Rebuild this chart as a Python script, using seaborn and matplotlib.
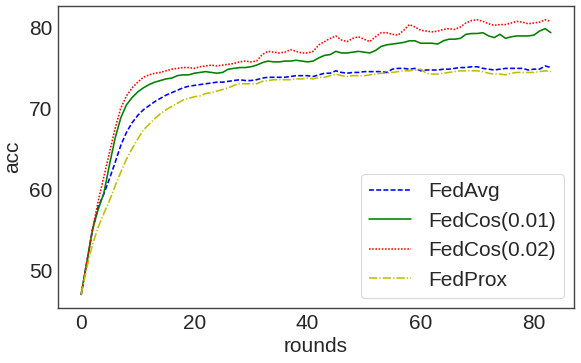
import numpy as np
import pandas as pd
import matplotlib
matplotlib.use("Agg")
import matplotlib.pyplot as plt
import seaborn as sns

rounds = list(range(84))

fedavg = [47.0, 51.0, 55.0, 57.8, 59.4, 61.3, 63.3, 65.4, 67.0, 68.2,
          69.1, 69.8, 70.3, 70.8, 71.2, 71.6, 71.9, 72.2, 72.5, 72.7,
          72.8, 72.9, 73.0, 73.1, 73.2, 73.2, 73.3, 73.4, 73.5, 73.4,
          73.4, 73.5, 73.7, 73.8, 73.8, 73.8, 73.8, 73.9, 74.0, 74.0,
          74.0, 73.9, 74.1, 74.3, 74.3, 74.6, 74.4, 74.3, 74.4, 74.4,
          74.5, 74.5, 74.5, 74.5, 74.4, 74.8, 74.9, 74.9, 74.8, 74.9,
          74.6, 74.7, 74.7, 74.7, 74.8, 74.8, 74.9, 75.0, 75.0, 75.1,
          75.1, 74.9, 74.8, 74.7, 74.8, 74.9, 74.9, 74.9, 74.9, 74.7,
          74.8, 74.8, 75.2, 75.0]

fedcos_001 = [47.0, 51.0, 55.0, 57.5, 59.5, 63.0, 66.3, 68.8, 70.4, 71.3,
              72.0, 72.5, 72.9, 73.2, 73.4, 73.6, 73.7, 74.0, 74.1, 74.1,
              74.3, 74.4, 74.5, 74.4, 74.3, 74.4, 74.8, 74.9, 75.0, 75.0,
              75.1, 75.3, 75.6, 75.8, 75.7, 75.7, 75.8, 75.8, 75.9, 75.8,
              75.7, 75.8, 76.2, 76.5, 76.6, 77.0, 76.8, 76.8, 76.9, 77.0,
              76.9, 76.8, 77.1, 77.6, 77.8, 77.9, 78.0, 78.1, 78.3, 78.3,
              78.0, 78.0, 78.0, 77.9, 78.3, 78.5, 78.5, 78.6, 79.1, 79.2,
              79.2, 79.3, 78.9, 78.7, 79.1, 78.6, 78.8, 78.9, 78.9, 78.9,
              79.0, 79.5, 79.8, 79.3]

fedcos_002 = [47.0, 51.0, 55.0, 58.5, 61.5, 64.5, 67.5, 70.0, 71.5, 72.5,
              73.2, 73.8, 74.1, 74.3, 74.4, 74.6, 74.8, 74.9, 75.0, 75.0,
              74.9, 75.1, 75.2, 75.3, 75.2, 75.3, 75.4, 75.5, 75.7, 75.8,
              75.7, 75.8, 76.6, 77.0, 76.9, 76.8, 76.9, 77.2, 77.0, 76.8,
              76.8, 77.0, 77.8, 78.2, 78.6, 78.9, 78.4, 78.2, 78.6, 78.8,
              78.5, 78.2, 78.8, 79.3, 79.3, 79.1, 79.0, 79.6, 80.3, 80.0,
              79.6, 79.5, 79.4, 79.5, 79.7, 79.8, 79.7, 80.0, 80.5, 80.8,
              80.9, 80.7, 80.4, 80.2, 80.3, 80.3, 80.5, 80.7, 80.6, 80.4,
              80.5, 80.6, 80.9, 80.7]

fedprox = [47.0, 50.3, 53.2, 55.3, 57.0, 58.6, 60.4, 62.1, 63.7, 65.0,
           66.2, 67.3, 68.0, 68.7, 69.3, 69.8, 70.2, 70.6, 71.0, 71.2,
           71.4, 71.5, 71.8, 71.9, 72.1, 72.3, 72.5, 72.8, 73.0, 73.0,
           73.0, 73.0, 73.3, 73.4, 73.5, 73.5, 73.5, 73.5, 73.6, 73.6,
           73.7, 73.6, 73.8, 73.8, 74.0, 74.2, 74.0, 73.9, 74.0, 74.0,
           74.0, 74.1, 74.2, 74.3, 74.3, 74.4, 74.5, 74.6, 74.6, 74.7,
           74.8, 74.3, 74.2, 74.2, 74.3, 74.4, 74.5, 74.6, 74.6, 74.6,
           74.6, 74.5, 74.3, 74.2, 74.2, 74.1, 74.3, 74.4, 74.4, 74.4,
           74.4, 74.5, 74.6, 74.5]

labels = ["FedAvg", "FedCos(0.01)", "FedCos(0.02)", "FedProx"]
series = [fedavg, fedcos_001, fedcos_002, fedprox]
colors = ["#0000ff", "#008000", "#ff0000", "#bfbf00"]
styles = [(0, (3.1, 1.4)), "-", (0, (1, 1.0)), (0, (5.2, 1.3, 0.8, 1.3))]

sns.set_theme(style="white")
plt.rcParams["font.family"] = ["Liberation Sans", "DejaVu Sans"]

fig = plt.figure(figsize=(5.81, 3.63), dpi=100)
ax = fig.add_axes([0.0993, 0.1507, 0.8892, 0.8328])

for lab, vals, c, ls in zip(labels, series, colors, styles):
    df = pd.DataFrame({"rounds": rounds, "acc": vals})
    sns.lineplot(data=df, x="rounds", y="acc", ax=ax, color=c,
                 linestyle=ls, linewidth=1.15, label=lab)

fs = 15
ax.set_xlabel("rounds", fontsize=fs, color="#262626", labelpad=3)
ax.set_ylabel("acc", fontsize=fs, color="#262626", labelpad=5)
ax.tick_params(axis="both", labelsize=fs, colors="#262626", length=0, pad=4)
ax.set_xticks([0, 20, 40, 60, 80])
ax.set_yticks([50, 60, 70, 80])
leg = ax.legend(loc="lower right", fontsize=fs)
leg.get_frame().set_linewidth(0.8)
leg.get_frame().set_edgecolor("#d0d0d0")
for t in leg.get_texts():
    t.set_color("#262626")
for s in ax.spines.values():
    s.set_color("#444444")
    s.set_linewidth(1.0)

fig.savefig("out.png", dpi=100)
